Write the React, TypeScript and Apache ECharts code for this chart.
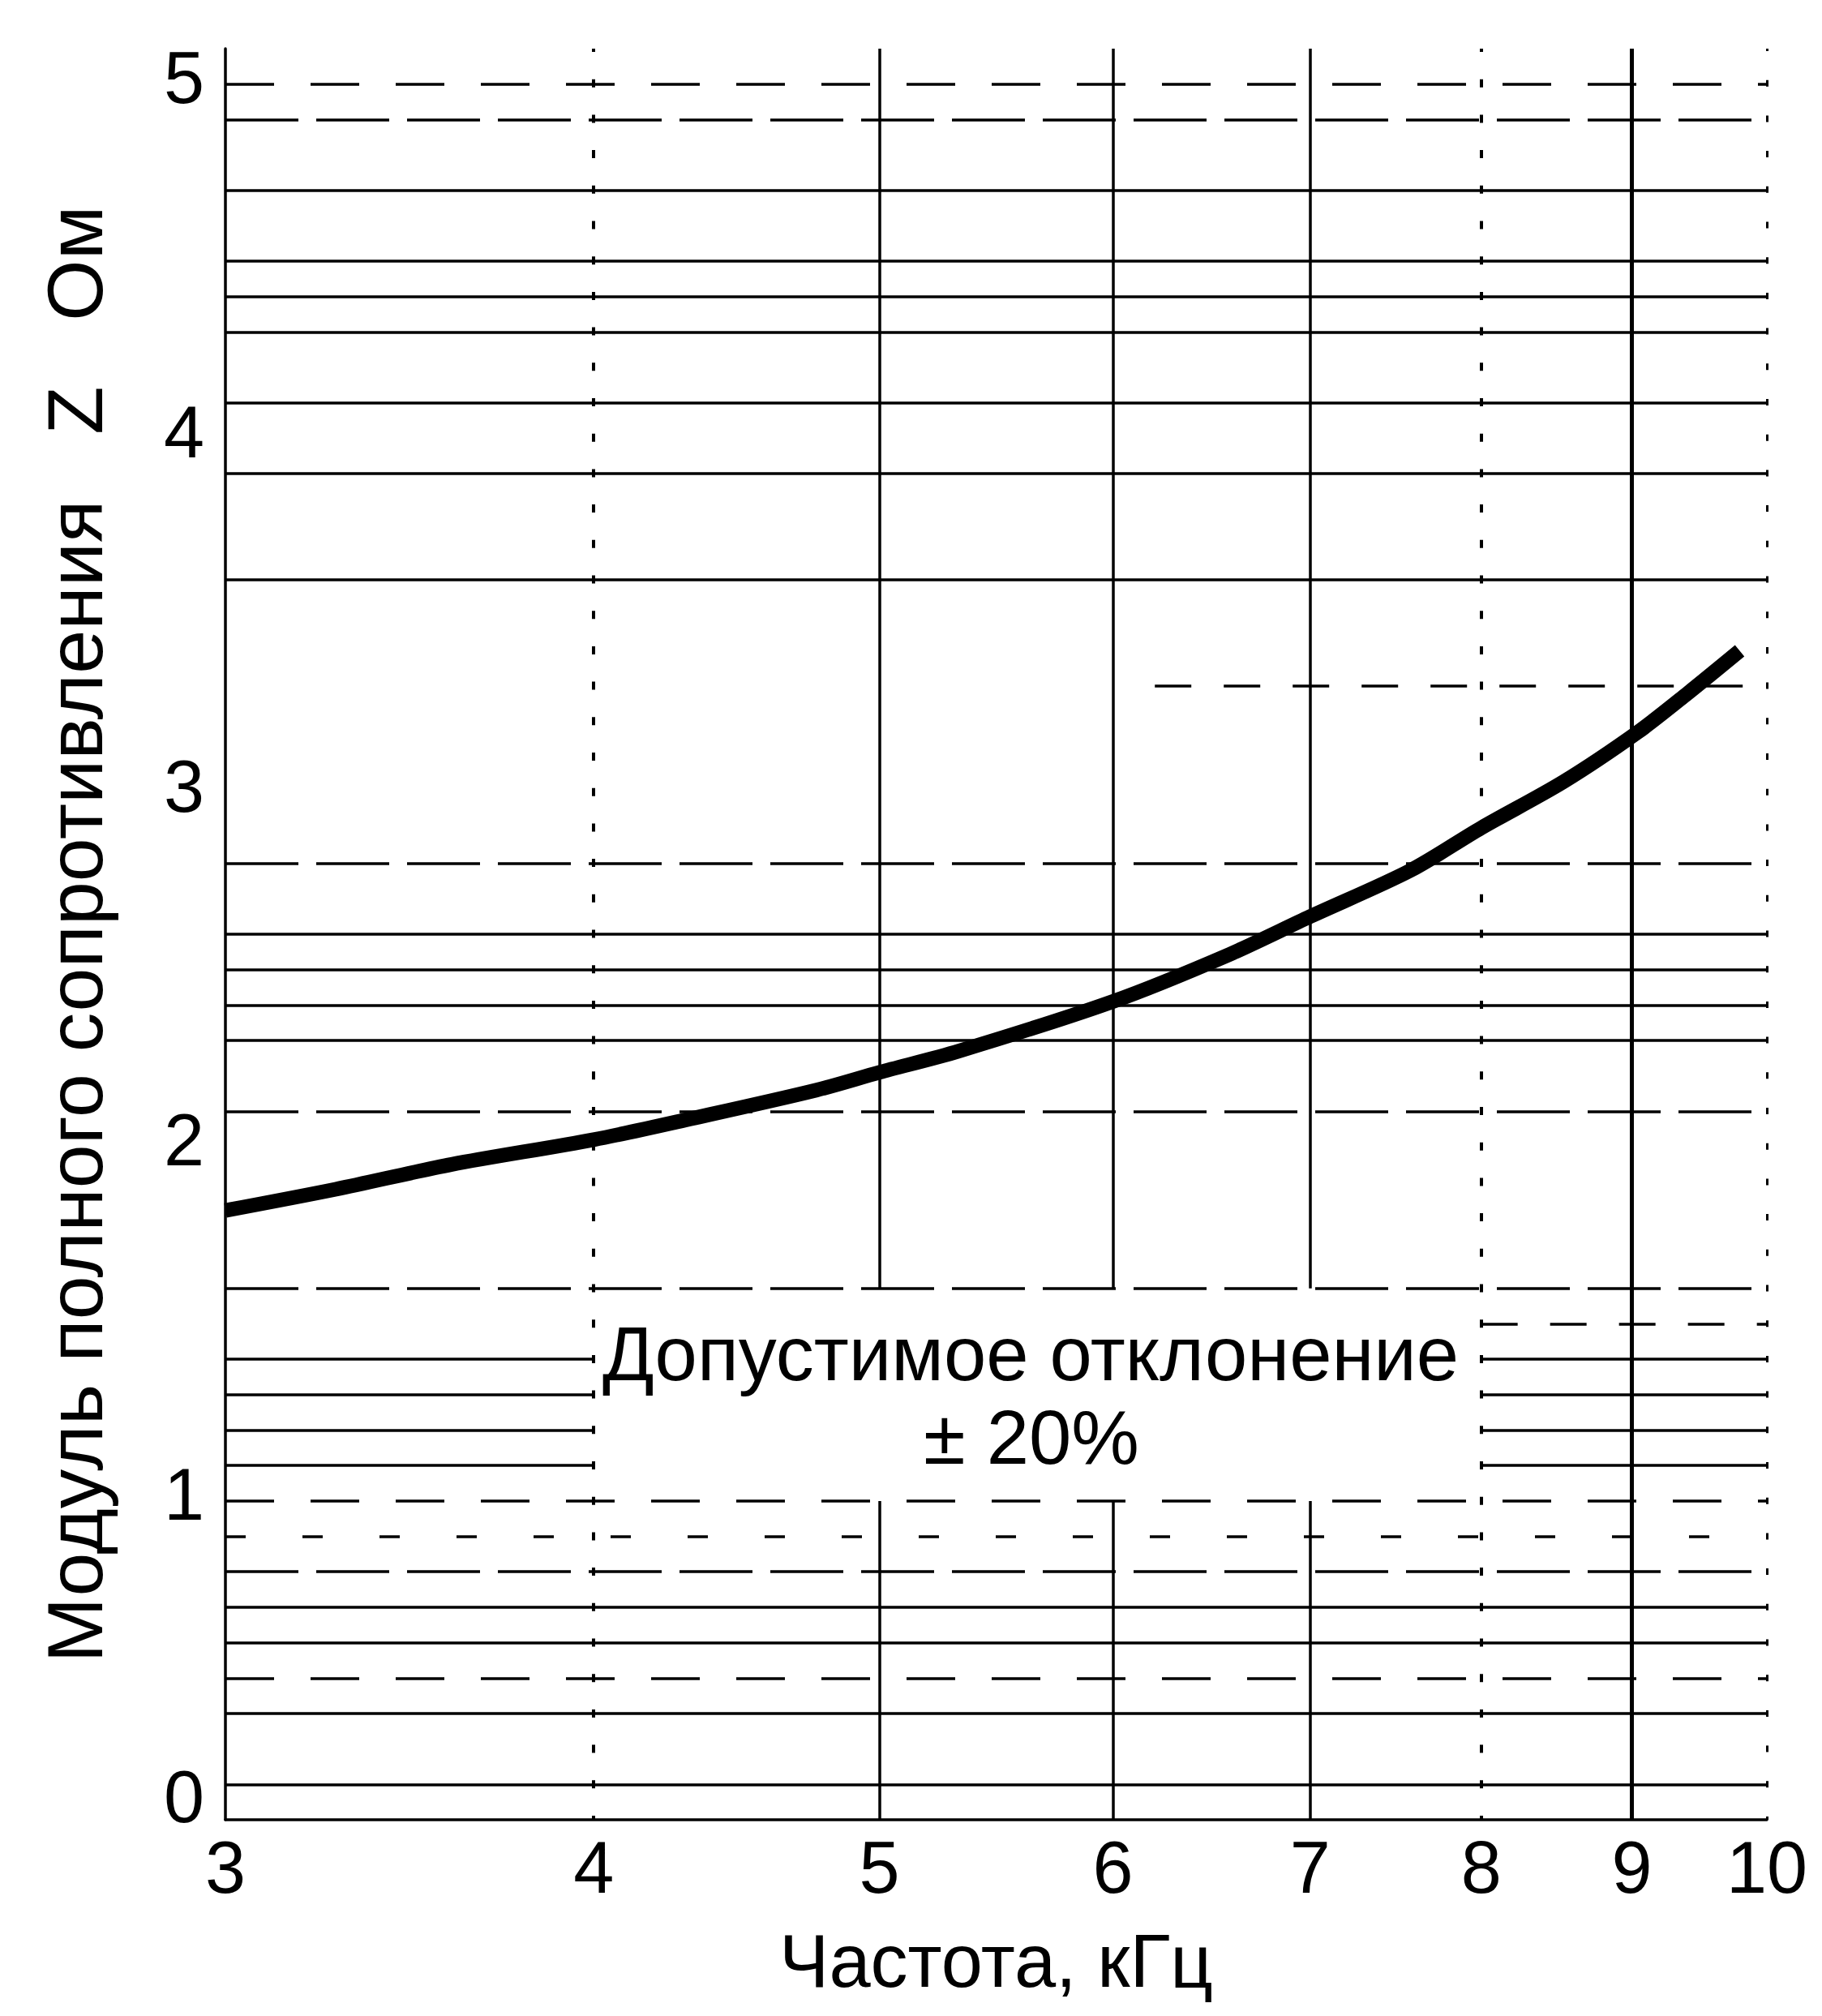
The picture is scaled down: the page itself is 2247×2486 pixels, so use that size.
import React, { useEffect, useRef } from "react";
import * as echarts from "echarts";

// ---- data ----
const freqKHz = [3, 3.27, 3.58, 4, 4.32, 4.76, 5, 5.32, 6, 6.56, 7, 7.57, 8, 8.53, 9.04, 9.4, 9.79];
const impedanceOhm = [1.72, 1.78, 1.85, 1.92, 1.98, 2.06, 2.11, 2.17, 2.31, 2.44, 2.55, 2.68, 2.8, 2.93, 3.07, 3.18, 3.3];

const xTickLabels = [3, 4, 5, 6, 7, 8, 9, 10];
const yTickLabels = [1, 2, 3, 4, 5];
const yZeroLabel = [0];

// chart-paper rulings (values in Ом)
const solidRules = [4.6, 4.4, 4.3, 4.2, 4.0, 3.8, 3.5, 2.5, 2.4, 2.3, 2.2, 0.6, 0.5, 0.3, 0.1];
const longDashRules = [4.8, 2.7, 2.0, 1.5, 0.7];
const dashRules = [4.9, 0.9, 0.4];
const sparseDashRules = [0.8];
const brokenRules = [1.3, 1.2, 1.1, 1.0]; // interrupted by the annotation
const brokenRuleGap = [4, 8]; // kHz
const partialRuleY = [3.2, 1.4];
const partialRuleFrom = [6.2, 8];
const solidVerticals = [9];
const brokenVerticals = [5, 6, 7];
const brokenVerticalGap = [0.9, 1.5];
const crossVerticals = [4, 8];
const edgeVerticals = [10];

const X_MIN = 3;
const X_MAX = 10;
const Y_MIN = 0;
const Y_MAX = 5;

const FONT = "'Liberation Sans', Arial, Helvetica, sans-serif";

const hSeg = (y: number, a = X_MIN, b = X_MAX) => ({ coords: [[a, y], [b, y]] });
const vSeg = (x: number, a = Y_MIN, b = Y_MAX) => ({ coords: [[x, a], [x, b]] });

function linesSeries(data: any[], width: number, type: any, extra: any = {}) {
  return {
    type: "lines",
    coordinateSystem: "cartesian2d",
    xAxisIndex: 0,
    yAxisIndex: 0,
    silent: true,
    z: 1,
    lineStyle: { color: "#000", width, type, opacity: 1, curveness: 0, ...extra },
    data,
  };
}

export default function App() {
  const ref = useRef<HTMLDivElement>(null);

  useEffect(() => {
    if (!ref.current) return;
    const chart = echarts.init(ref.current, undefined, { renderer: "svg" });

    const solidH = [
      ...solidRules.map((y) => hSeg(y)),
      ...brokenRules.map((y) => hSeg(y, X_MIN, brokenRuleGap[0])),
      ...brokenRules.map((y) => hSeg(y, brokenRuleGap[1], X_MAX)),
    ];
    const longDashH = longDashRules.map((y) => hSeg(y));
    const dashH = dashRules.map((y) => hSeg(y));
    const sparseH = sparseDashRules.map((y) => hSeg(y));
    const partialH = partialRuleY.map((y, i) => hSeg(y, partialRuleFrom[i], X_MAX));

    const solidV = [
      ...brokenVerticals.map((x) => vSeg(x, Y_MIN, brokenVerticalGap[0])),
      ...brokenVerticals.map((x) => vSeg(x, brokenVerticalGap[1], Y_MAX)),
    ];
    const thickV = solidVerticals.map((x) => vSeg(x));
    const crossV = crossVerticals.map((x) => vSeg(x));
    const edgeV = edgeVerticals.map((x) => vSeg(x));

    const option: any = {
      animation: false,
      backgroundColor: "#ffffff",
      textStyle: { fontFamily: FONT },
      grid: { left: 278, top: 60, right: 68, bottom: 242, containLabel: false },
      xAxis: {
        type: "log",
        logBase: 10,
        min: X_MIN,
        max: X_MAX,
        name: "Частота, кГц",
        nameLocation: "middle",
        nameGap: 128,
        nameTextStyle: { fontSize: 92, color: "#000", fontFamily: FONT },
        axisLine: { show: true, lineStyle: { color: "#000", width: 3.5 } },
        axisTick: { show: false },
        splitLine: { show: false },
        minorTick: { show: false },
        axisLabel: {
          customValues: xTickLabels,
          fontSize: 90,
          color: "#000",
          fontFamily: FONT,
          margin: 14,
          formatter: (v: number) => String(Math.round(v)),
        },
      },
      yAxis: [
        {
          type: "value",
          min: Y_MIN,
          max: Y_MAX,
          position: "left",
          name: "Модуль полного сопротивления   Z   Ом",
          nameLocation: "middle",
          nameGap: 137,
          nameRotate: 90,
          nameTextStyle: { fontSize: 97, color: "#000", fontFamily: FONT },
          axisLine: { show: true, lineStyle: { color: "#000", width: 3.5 } },
          axisTick: { show: false },
          splitLine: { show: false },
          axisLabel: {
            customValues: yTickLabels,
            fontSize: 90,
            color: "#000",
            fontFamily: FONT,
            margin: 26,
            verticalAlign: "top",
            lineHeight: 72,
            formatter: (v: number) => String(Math.round(v)),
          },
        },
        {
          type: "value",
          min: Y_MIN,
          max: Y_MAX,
          position: "left",
          axisLine: { show: false },
          axisTick: { show: false },
          splitLine: { show: false },
          axisLabel: {
            customValues: yZeroLabel,
            fontSize: 90,
            color: "#000",
            fontFamily: FONT,
            margin: 26,
            verticalAlign: "bottom",
            lineHeight: 56,
            formatter: (v: number) => String(Math.round(v)),
          },
        },
      ],
      series: [
        linesSeries(solidH, 3.5, "solid"),
        linesSeries(longDashH, 3.5, [90, 22]),
        linesSeries(dashH, 3.5, [60, 45]),
        linesSeries(sparseH, 3.5, [25, 70]),
        linesSeries(partialH, 3.5, [45, 40]),
        linesSeries(solidV, 3.5, "solid"),
        linesSeries(thickV, 5, "solid"),
        linesSeries(crossV, 4, [10, 33.7], { dashOffset: 5 }),
        linesSeries(edgeV, 3, [8, 35.7], { dashOffset: 4 }),
        {
          type: "line",
          name: "Z",
          xAxisIndex: 0,
          yAxisIndex: 0,
          data: freqKHz.map((f, i) => [f, impedanceOhm[i]]),
          smooth: 0.3,
          symbol: "none",
          silent: true,
          z: 5,
          lineStyle: { color: "#000", width: 18, cap: "butt" },
        },
      ],
      graphic: [
        {
          type: "text",
          x: 1271,
          y: 1669,
          z: 10,
          silent: true,
          style: {
            text: "Допустимое отклонение",
            fontSize: 94,
            fontFamily: FONT,
            fill: "#000",
            align: "center",
            verticalAlign: "middle",
          },
        },
        {
          type: "text",
          x: 1272,
          y: 1772,
          z: 10,
          silent: true,
          style: {
            text: "± 20%",
            fontSize: 94,
            fontFamily: FONT,
            fill: "#000",
            align: "center",
            verticalAlign: "middle",
          },
        },
      ],
    };

    chart.setOption(option);
    return () => chart.dispose();
  }, []);

  return (
    <div
      ref={ref}
      style={{ position: "absolute", left: 0, top: 0, width: 2247, height: 2486, background: "#fff" }}
    />
  );
}
